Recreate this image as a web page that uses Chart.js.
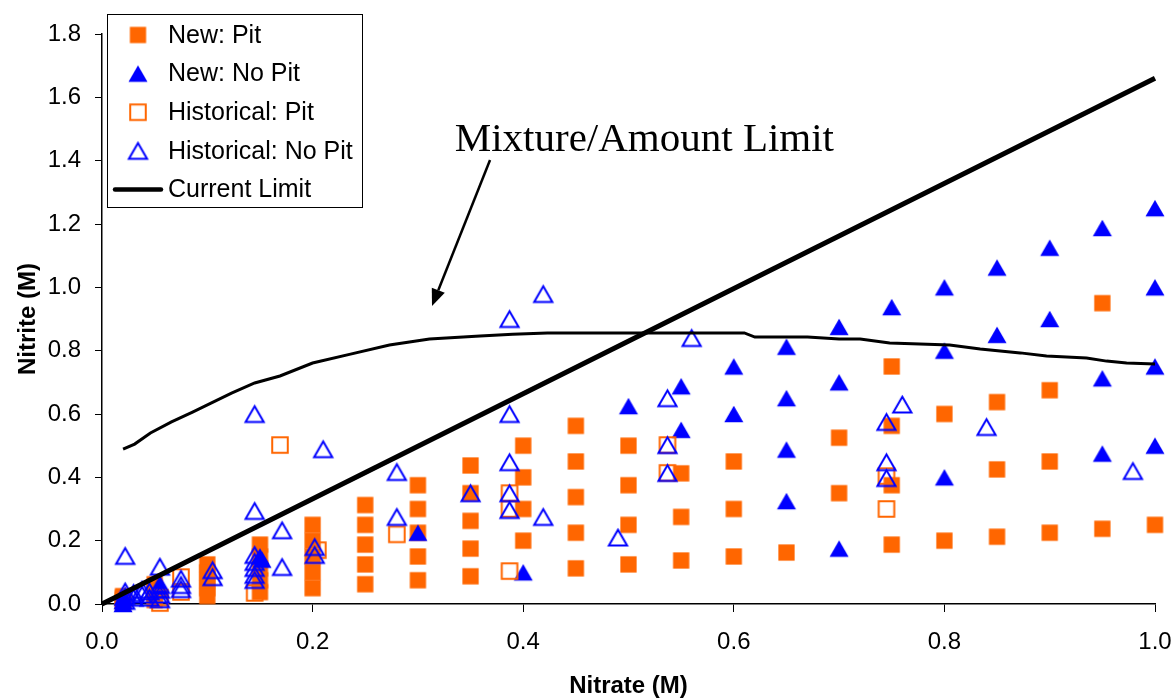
<!DOCTYPE html>
<html>
<head>
<meta charset="utf-8">
<title>Nitrite vs Nitrate</title>
<script src="https://cdn.jsdelivr.net/npm/chart.js@4.4.1/dist/chart.umd.min.js"></script>
<style>
  html, body { margin: 0; padding: 0; background: #fff; }
  canvas { display: block; }
</style>
</head>
<body>
<canvas id="chart" width="1175" height="698"></canvas>
<script>
// series, as [nitrate, nitrite] pairs
const newPit = [
  [0.02,0.025],[0.02,0.02],[0.02,0.015],[0.02,0.01],[0.02,0.005],
  [0.05,0.0625],[0.05,0.05],[0.05,0.0375],[0.05,0.025],[0.05,0.0125],
  [0.1,0.125],[0.1,0.1],[0.1,0.075],[0.1,0.05],[0.1,0.025],
  [0.15,0.1875],[0.15,0.15],[0.15,0.1125],[0.15,0.075],[0.15,0.0375],
  [0.2,0.25],[0.2,0.2],[0.2,0.15],[0.2,0.1],[0.2,0.05],
  [0.25,0.3125],[0.25,0.25],[0.25,0.1875],[0.25,0.125],[0.25,0.0625],
  [0.3,0.375],[0.3,0.3],[0.3,0.225],[0.3,0.15],[0.3,0.075],
  [0.35,0.4375],[0.35,0.35],[0.35,0.2625],[0.35,0.175],[0.35,0.0875],
  [0.4,0.5],[0.4,0.4],[0.4,0.3],[0.4,0.2],
  [0.45,0.5625],[0.45,0.45],[0.45,0.3375],[0.45,0.225],[0.45,0.1125],
  [0.5,0.5],[0.5,0.375],[0.5,0.25],[0.5,0.125],
  [0.55,0.4125],[0.55,0.275],[0.55,0.1375],
  [0.6,0.45],[0.6,0.3],[0.6,0.15],
  [0.65,0.1625],
  [0.7,0.525],[0.7,0.35],
  [0.75,0.75],[0.75,0.5625],[0.75,0.375],[0.75,0.1875],
  [0.8,0.6],[0.8,0.2],
  [0.85,0.6375],[0.85,0.425],[0.85,0.2125],
  [0.9,0.675],[0.9,0.45],[0.9,0.225],
  [0.95,0.95],[0.95,0.2375],
  [1.0,0.25]
];
const newNoPit = [
  [0.02,0.02],[0.02,0.01],[0.02,0.0],[0.055,0.06],[0.055,0.045],
  [0.15,0.15],[0.152,0.14],
  [0.3,0.225],[0.4,0.1],[0.5,0.625],
  [0.55,0.6875],[0.55,0.55],
  [0.6,0.75],[0.6,0.6],
  [0.65,0.8125],[0.65,0.65],[0.65,0.4875],[0.65,0.325],
  [0.7,0.875],[0.7,0.7],[0.7,0.175],
  [0.75,0.9375],
  [0.8,1.0],[0.8,0.8],[0.8,0.4],
  [0.85,1.0625],[0.85,0.85],
  [0.9,1.125],[0.9,0.9],
  [0.95,1.1875],[0.95,0.7125],[0.95,0.475],
  [1.0,1.25],[1.0,1.0],[1.0,0.75],[1.0,0.5]
];
const histPit = [
  [0.055,0.02],[0.055,0.003],[0.075,0.085],[0.075,0.038],[0.145,0.035],
  [0.169,0.502],[0.205,0.17],[0.28,0.22],
  [0.387,0.35],[0.387,0.3],[0.387,0.104],
  [0.537,0.502],[0.537,0.414],
  [0.745,0.404],[0.745,0.3]
];
const histNoPit = [
  [0.022,0.152],[0.022,0.04],[0.022,0.025],[0.022,0.01],[0.03,0.035],[0.03,0.02],
  [0.038,0.045],[0.038,0.03],[0.045,0.04],[0.045,0.02],
  [0.055,0.118],[0.055,0.06],[0.055,0.045],[0.055,0.03],[0.055,0.015],
  [0.075,0.08],[0.075,0.06],[0.075,0.047],[0.105,0.107],[0.105,0.085],
  [0.145,0.6],[0.145,0.294],[0.145,0.155],[0.145,0.133],[0.145,0.114],[0.145,0.092],[0.145,0.076],
  [0.171,0.233],[0.171,0.117],[0.202,0.18],[0.202,0.155],[0.21,0.489],
  [0.28,0.417],[0.28,0.275],[0.35,0.35],
  [0.387,0.9],[0.387,0.6],[0.387,0.448],[0.387,0.35],[0.387,0.297],
  [0.419,0.979],[0.419,0.275],[0.49,0.21],
  [0.537,0.65],[0.537,0.502],[0.537,0.414],[0.56,0.84],
  [0.745,0.575],[0.745,0.448],[0.745,0.398],[0.76,0.63],[0.84,0.559],[0.979,0.42]
];
const currentLimit = [[0,0],[1.0,1.66]];
const mixtureLimit = [
  [0.02,0.489],[0.031,0.505],[0.046,0.54],[0.066,0.575],[0.086,0.606],[0.104,0.635],
  [0.123,0.666],[0.145,0.698],[0.169,0.72],[0.2,0.761],[0.236,0.789],[0.273,0.818],
  [0.311,0.837],[0.359,0.846],[0.39,0.852],[0.423,0.856],[0.61,0.856],[0.62,0.843],
  [0.67,0.843],[0.70,0.837],[0.72,0.837],[0.748,0.824],[0.805,0.818],[0.834,0.805],
  [0.872,0.793],[0.897,0.783],[0.935,0.777],[0.954,0.767],[0.973,0.761],[1.0,0.758]
];
const xTicks = [0, 0.2, 0.4, 0.6, 0.8, 1.0];
const yTicks = [0, 0.2, 0.4, 0.6, 0.8, 1.0, 1.2, 1.4, 1.6, 1.8];

const ORANGE = '#FF6600';
const BLUE = '#0000FF';
const pts = a => a.map(p => ({x: p[0], y: p[1]}));

Chart.defaults.font.family = '"Liberation Sans", Arial, sans-serif';
Chart.defaults.color = '#000';

// marker shapes, centred on their bounding box like the original
function marker(c, style, x, y, r, fill, stroke, lw) {
  c.beginPath();
  if (style === 'rect') {
    const s = r * Math.SQRT1_2;
    c.rect(x - s, y - s, 2 * s, 2 * s);
  } else {
    for (let k = 0; k < 3; k++) {
      const a = k * 2 * Math.PI / 3;
      const px = x + Math.sin(a) * r, py = y - Math.cos(a) * r + r * 0.25;
      k ? c.lineTo(px, py) : c.moveTo(px, py);
    }
    c.closePath();
  }
  if (fill) { c.fillStyle = fill; c.fill(); }
  if (lw) { c.lineWidth = lw; c.strokeStyle = stroke; c.stroke(); }
}
function markerImage(style, r, fill, stroke, lw) {
  const cv = document.createElement('canvas');
  const s = Math.ceil(2 * r + 4);
  cv.width = cv.height = s;
  marker(cv.getContext('2d'), style, s / 2, s / 2, r, fill, stroke, lw);
  return cv;
}
const mkNewPit = markerImage('rect', 11.5, ORANGE, null, 0);
const mkNewNoPit = markerImage('triangle', 11, BLUE, null, 0);
const mkHistPit = markerImage('rect', 11, null, ORANGE, 2);
const mkHistNoPit = markerImage('triangle', 10.5, null, BLUE, 2);

const boxLegend = {
  id: 'boxLegend',
  afterDraw(chart) {
    const c = chart.ctx;
    c.save();
    c.fillStyle = '#fff';
    c.fillRect(107.5, 14.5, 255, 193);
    c.strokeStyle = '#000';
    c.lineWidth = 1;
    c.strokeRect(107.5, 14.5, 255, 193);
    c.font = '25px "Liberation Sans", Arial, sans-serif';
    c.textBaseline = 'middle';
    chart.data.datasets.filter(d => d.inLegend).forEach((d, i) => {
      const y = 35 + i * 38.6;
      if (d.showLine) {
        c.beginPath();
        c.moveTo(115, y); c.lineTo(161, y);
        c.lineWidth = 4.5; c.strokeStyle = '#000'; c.lineCap = 'round';
        c.stroke();
      } else {
        const img = d.pointStyle;
        c.drawImage(img, 138 - img.width / 2, y - img.height / 2);
      }
      c.fillStyle = '#000';
      c.fillText(d.label, 168, y + 1);
    });
    c.restore();
  }
};

// text label and arrow for the curved limit
const note = {
  id: 'note',
  afterDraw(chart) {
    const c = chart.ctx, xs = chart.scales.x, ys = chart.scales.y;
    c.save();
    c.font = '41px "Liberation Serif", "Times New Roman", serif';
    c.fillStyle = '#000';
    c.textBaseline = 'alphabetic';
    c.fillText('Mixture/Amount Limit', xs.getPixelForValue(0.335), ys.getPixelForValue(1.43));
    const x0 = xs.getPixelForValue(0.3685), y0 = ys.getPixelForValue(1.402);
    const x1 = xs.getPixelForValue(0.3134), y1 = ys.getPixelForValue(0.941);
    const ang = Math.atan2(y1 - y0, x1 - x0);
    const hl = 17, hw = 7;
    const bx = x1 - Math.cos(ang) * hl, by = y1 - Math.sin(ang) * hl;
    c.beginPath();
    c.moveTo(x0, y0); c.lineTo(bx, by);
    c.lineWidth = 2.5; c.strokeStyle = '#000'; c.stroke();
    c.beginPath();
    c.moveTo(x1, y1);
    c.lineTo(bx + Math.sin(ang) * hw, by - Math.cos(ang) * hw);
    c.lineTo(bx - Math.sin(ang) * hw, by + Math.cos(ang) * hw);
    c.closePath();
    c.fill();
    c.restore();
  }
};

new Chart(document.getElementById('chart'), {
  type: 'scatter',
  data: {
    datasets: [
      { label: 'New: Pit', data: pts(newPit), inLegend: true, order: 6,
        pointStyle: mkNewPit, pointRadius: 12, backgroundColor: ORANGE, borderColor: ORANGE },
      { label: 'New: No Pit', data: pts(newNoPit), inLegend: true, order: 5,
        pointStyle: mkNewNoPit, pointRadius: 12, backgroundColor: BLUE, borderColor: BLUE },
      { label: 'Historical: Pit', data: pts(histPit), inLegend: true, order: 4,
        pointStyle: mkHistPit, pointRadius: 12, backgroundColor: 'transparent', borderColor: ORANGE },
      { label: 'Historical: No Pit', data: pts(histNoPit), inLegend: true, order: 3,
        pointStyle: mkHistNoPit, pointRadius: 12, backgroundColor: 'transparent', borderColor: BLUE },
      { label: 'Current Limit', data: pts(currentLimit), inLegend: true, order: 2,
        showLine: true, pointRadius: 0, borderColor: '#000', borderWidth: 5, backgroundColor: '#000' },
      { label: 'Mixture/Amount Limit', data: pts(mixtureLimit), inLegend: false, order: 1,
        showLine: true, pointRadius: 0, borderColor: '#000', borderWidth: 3, backgroundColor: '#000' }
    ].map(d => Object.assign(d, { clip: false }))
  },
  options: {
    responsive: false,
    animation: false,
    layout: { padding: { left: 0, top: 34, right: 20, bottom: 0 } },
    plugins: { legend: { display: false }, tooltip: { enabled: false } },
    scales: {
      x: {
        type: 'linear', min: 0, max: 1,
        afterFit: s => { s.height = 94; s.paddingLeft = 0; s.paddingRight = 0; },
        afterBuildTicks: s => { s.ticks = xTicks.map(v => ({value: v})); },
        ticks: { font: { size: 24 }, padding: 16, callback: v => v.toFixed(1), maxRotation: 0 },
        grid: { drawOnChartArea: false, color: '#000', tickLength: 8, lineWidth: 1 },
        border: { color: '#000', width: 1.5 },
        title: { display: true, text: 'Nitrate (M)', font: { size: 24, weight: 'bold', lineHeight: 1 }, padding: { top: 0, bottom: 0 } }
      },
      y: {
        type: 'linear', min: 0, max: 1.8,
        afterFit: s => { s.width = 102; },
        afterBuildTicks: s => { s.ticks = yTicks.map(v => ({value: v})); },
        ticks: { font: { size: 24 }, padding: 14, callback: v => v.toFixed(1) },
        grid: { drawOnChartArea: false, color: '#000', tickLength: 7, lineWidth: 1 },
        border: { color: '#000', width: 1.5 },
        title: { display: true, text: 'Nitrite (M)', font: { size: 24, weight: 'bold', lineHeight: 1 }, padding: { top: 16, bottom: 0 } }
      }
    }
  },
  plugins: [note, boxLegend]
});
</script>
</body>
</html>
